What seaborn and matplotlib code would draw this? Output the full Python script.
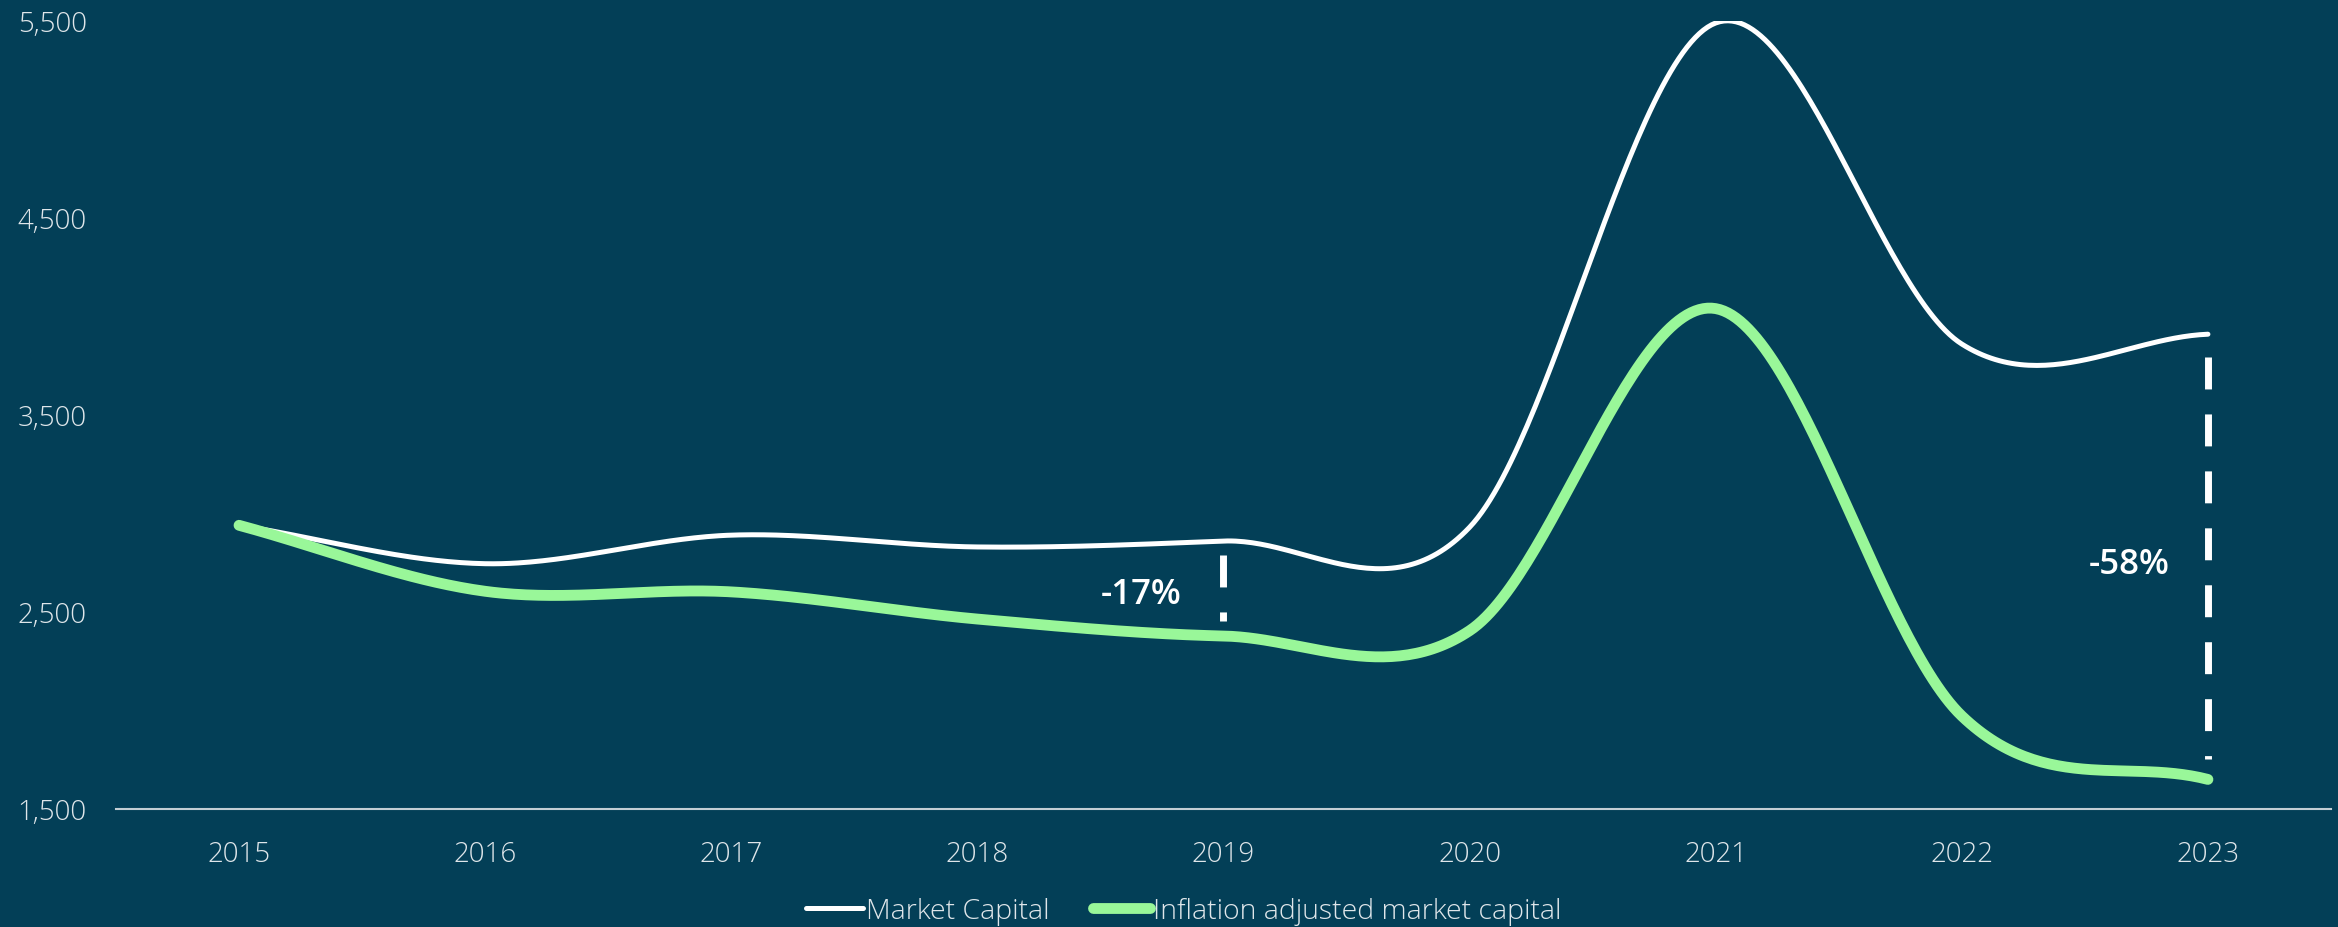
import numpy as np
import pandas as pd
import matplotlib
matplotlib.use("Agg")
import matplotlib.pyplot as plt
from matplotlib.ticker import FuncFormatter
import seaborn as sns

# Yearly values
years = [2015, 2016, 2017, 2018, 2019, 2020, 2021, 2022, 2023]
market_capital = [2940, 2745, 2890, 2830, 2860, 2930, 5490, 3860, 3910]
inflation_adjusted = [2940, 2605, 2602, 2464, 2378, 2405, 4040, 1972, 1650]

series_names = ["Market Capital", "Inflation adjusted market capital"]
y_ticks = [1500, 2500, 3500, 4500, 5500]

# Gap annotations: (year, top value, bottom value, label, label x, label y)
gap_notes = [
    (2019, 2789, 2454, "-17%", 2018.665, 2590),
    (2023, 3794, 1754, "-58%", 2022.68, 2745),
]

BG = "#033f57"
WHITE = "#ffffff"
GREEN = "#99f799"
TICK_COLOR = "#dfe6ea"

sns.set_theme(style="white")
plt.rcParams["font.family"] = ["Open Sans", "DejaVu Sans"]
plt.rcParams["lines.scale_dashes"] = False


def smooth(xs, ys, n=60):
    """Cardinal (Catmull-Rom) spline through the yearly points."""
    xs = np.asarray(xs, float)
    ys = np.asarray(ys, float)
    m = np.gradient(ys, xs)
    out_x, out_y = [], []
    for i in range(len(xs) - 1):
        h = xs[i + 1] - xs[i]
        t = np.linspace(0, 1, n, endpoint=(i == len(xs) - 2))
        h00 = 2 * t**3 - 3 * t**2 + 1
        h10 = t**3 - 2 * t**2 + t
        h01 = -2 * t**3 + 3 * t**2
        h11 = t**3 - t**2
        out_x.append(xs[i] + t * h)
        out_y.append(h00 * ys[i] + h10 * h * m[i] + h01 * ys[i + 1] + h11 * h * m[i + 1])
    return np.concatenate(out_x), np.concatenate(out_y)


frames = []
for name, vals in zip(series_names, [market_capital, inflation_adjusted]):
    sx, sy = smooth(years, vals)
    frames.append(pd.DataFrame({"year": sx, "value": sy, "series": name}))
df = pd.concat(frames, ignore_index=True)

fig = plt.figure(figsize=(23.38, 9.28), dpi=100, facecolor=BG)
ax = fig.add_axes([0.0496, 0.1272, 0.9474, 0.8491])
ax.set_facecolor(BG)

palette = {series_names[0]: WHITE, series_names[1]: GREEN}
widths = {series_names[0]: 3.6, series_names[1]: 7.8}
for name in series_names:
    sub = df[df["series"] == name]
    sns.lineplot(data=sub, x="year", y="value", ax=ax, color=palette[name],
                 linewidth=widths[name], label=name, sort=False,
                 solid_capstyle="round", solid_joinstyle="round", estimator=None)

# Dashed gap markers with their percentage labels
for yr, top, bottom, label, tx, ty in gap_notes:
    ax.plot([yr, yr], [top, bottom], color=WHITE, linewidth=5.0,
            dashes=(23, 18), dash_capstyle="butt")
    ax.text(tx, ty, label, color=WHITE, fontsize=25, fontweight="semibold",
            ha="center", va="center")

ax.set_xlim(2014.5, 2023.5)
ax.set_ylim(y_ticks[0], y_ticks[-1])
ax.set_xticks(years)
ax.set_yticks(y_ticks)
ax.yaxis.set_major_formatter(FuncFormatter(lambda v, p: f"{int(v):,}"))
ax.set_xlabel("")
ax.set_ylabel("")
ax.grid(False)

for side in ["top", "right", "left"]:
    ax.spines[side].set_visible(False)
ax.spines["bottom"].set_color("#c3ced4")
ax.spines["bottom"].set_linewidth(1.5)

ax.tick_params(axis="both", length=0, labelcolor=TICK_COLOR, labelsize=20)
ax.tick_params(axis="y", pad=21)
ax.tick_params(axis="x", pad=22)
for lab in ax.get_xticklabels() + ax.get_yticklabels():
    lab.set_fontweight("light")

leg = ax.legend(loc="center", ncol=2, frameon=False,
                fontsize=20.5, handlelength=2.0, handletextpad=0.12,
                columnspacing=1.5)
leg.set_bbox_to_anchor((794 / 1568, 1 - 912 / 928), transform=fig.transFigure)
for text in leg.get_texts():
    text.set_color(TICK_COLOR)
    text.set_fontweight("light")
for line in leg.get_lines():
    line.set_solid_capstyle("round")

fig.savefig("out.png", dpi=100, facecolor=BG)
